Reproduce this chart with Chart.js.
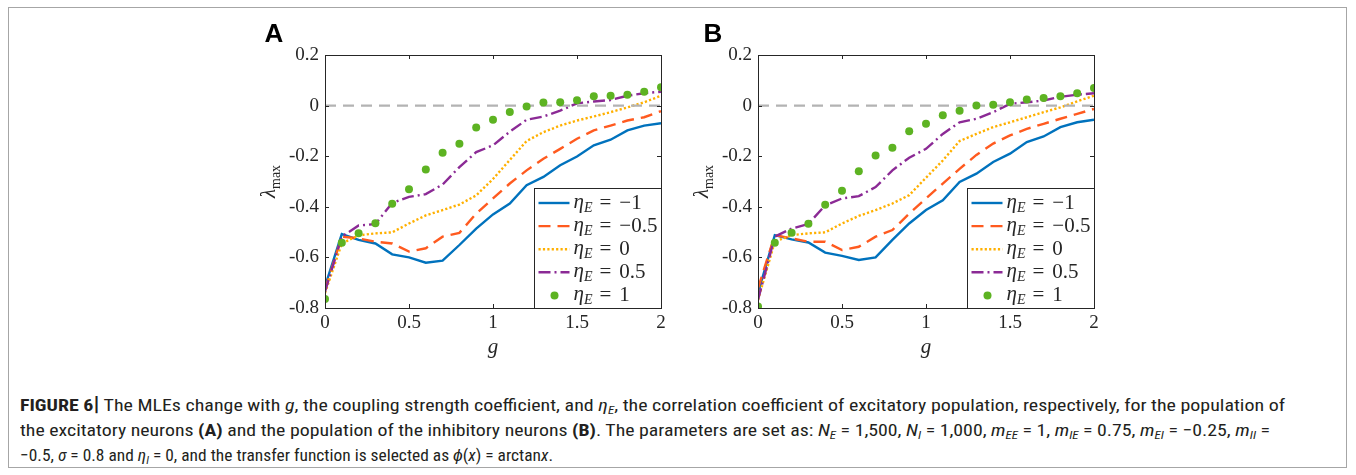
<!DOCTYPE html>
<html>
<head>
<meta charset="utf-8">
<script src="https://cdn.jsdelivr.net/npm/chart.js@4.4.1/dist/chart.umd.min.js"></script>
<style>
    body { margin: 0; background: #fff; width: 1356px; height: 475px; position: relative; overflow: hidden; }
    #frame { position: absolute; left: 8px; top: 7px; width: 1339px; height: 461px; border: 1px solid #a6a6a6; box-sizing: border-box; }
    .panel { position: absolute; top: 10px; width: 440px; height: 370px; }
    #caption {
        position: absolute; left: 20px; top: 392px;
        font-family: 'Liberation Sans Narrow', 'Roboto Condensed', 'Liberation Sans', Arial, sans-serif;
        font-size: 17px; line-height: 25px; color: #231f20; white-space: nowrap;
    }
    #caption .line { display: inline-block; transform-origin: 0 50%; }
    #caption sub { font-size: 11px; vertical-align: -3px; line-height: 0; }
    .bar { font-weight: bold; font-size: 20px; }
</style>
</head>
<body>
<div id="frame"></div>
<div class="panel" style="left:240px"><canvas id="chartA" width="440" height="370"></canvas></div>
<div class="panel" style="left:673px"><canvas id="chartB" width="440" height="370"></canvas></div>
<div id="caption">
<span class="line"><b>FIGURE 6</b><span class="bar">|</span> The MLEs change with <i>g</i>, the coupling strength coefficient, and <i>η<sub>E</sub></i>, the correlation coefficient of excitatory population, respectively, for the population of</span><br>
<span class="line">the excitatory neurons <b>(A)</b> and the population of the inhibitory neurons <b>(B)</b>. The parameters are set as: <i>N<sub>E</sub></i> = 1,500, <i>N<sub>I</sub></i> = 1,000, <i>m<sub>EE</sub></i> = 1, <i>m<sub>IE</sub></i> = 0.75, <i>m<sub>EI</sub></i> = −0.25, <i>m<sub>II</sub></i> =</span><br>
<span class="line">−0.5, <i>σ</i> = 0.8 and <i>η<sub>I</sub></i> = 0, and the transfer function is selected as <i>ϕ</i>(<i>x</i>) = arctan<i>x</i>.</span>
</div>

<script>
// coupling strength g (x axis)
const gValues = [0, 0.1, 0.2, 0.3, 0.4, 0.5, 0.6, 0.7, 0.8, 0.9, 1.0,
                 1.1, 1.2, 1.3, 1.4, 1.5, 1.6, 1.7, 1.8, 1.9, 2.0];

// eta_E legend values
const etaLabels = ['\u22121', '\u22120.5', '0', '0.5', '1'];

// Panel A - excitatory population
const blueA   = [-0.715, -0.508, -0.531, -0.545, -0.588, -0.600, -0.621, -0.613, -0.551, -0.486, -0.430,
                 -0.387, -0.315, -0.282, -0.236, -0.201, -0.157, -0.135, -0.098, -0.079, -0.070];
const redA    = [-0.728, -0.518, -0.525, -0.538, -0.545, -0.577, -0.564, -0.518, -0.503, -0.427, -0.367,
                 -0.308, -0.256, -0.210, -0.171, -0.131, -0.098, -0.079, -0.059, -0.046, -0.022];
const yellowA = [-0.741, -0.545, -0.513, -0.505, -0.501, -0.466, -0.434, -0.413, -0.391, -0.355, -0.290,
                 -0.215, -0.140, -0.105, -0.079, -0.059, -0.043, -0.026, -0.007, 0.013, 0.039];
const purpleA = [-0.735, -0.518, -0.474, -0.468, -0.385, -0.361, -0.350, -0.312, -0.243, -0.184, -0.157,
                 -0.103, -0.056, -0.043, -0.020, 0.009, 0.016, 0.022, 0.039, 0.049, 0.055];
const greenA  = [-0.764, -0.542, -0.505, -0.465, -0.388, -0.331, -0.253, -0.186, -0.151, -0.087, -0.056,
                 -0.025, -0.004, 0.012, 0.013, 0.021, 0.037, 0.039, 0.043, 0.055, 0.073];

// Panel B - inhibitory population
const blueB   = [-0.741, -0.512, -0.529, -0.541, -0.581, -0.594, -0.610, -0.600, -0.531, -0.466, -0.413,
                 -0.374, -0.302, -0.269, -0.223, -0.190, -0.144, -0.122, -0.085, -0.066, -0.056];
const redB    = [-0.722, -0.512, -0.525, -0.538, -0.538, -0.571, -0.558, -0.518, -0.492, -0.427, -0.367,
                 -0.308, -0.250, -0.195, -0.150, -0.118, -0.092, -0.072, -0.052, -0.033, -0.013];
const yellowB = [-0.768, -0.538, -0.512, -0.505, -0.501, -0.466, -0.436, -0.413, -0.387, -0.354, -0.285,
                 -0.217, -0.140, -0.112, -0.085, -0.066, -0.046, -0.026, -0.007, 0.017, 0.039];
const purpleB = [-0.768, -0.518, -0.486, -0.468, -0.394, -0.367, -0.358, -0.322, -0.256, -0.206, -0.171,
                 -0.112, -0.066, -0.052, -0.026, 0.007, 0.013, 0.020, 0.035, 0.043, 0.049];
const greenB  = [-0.794, -0.542, -0.503, -0.467, -0.392, -0.337, -0.259, -0.197, -0.167, -0.101, -0.072,
                 -0.038, -0.020, 0.000, 0.003, 0.013, 0.024, 0.030, 0.037, 0.049, 0.070];

// reference line at lambda = 0
const zeroLineX = [0, 2];
const zeroLineY = [0, 0];

const SERIF = "'Liberation Serif', 'DejaVu Serif', serif";
const AXIS_COLOR = '#262626';

const styles = [
    { color: '#0072BD', dash: [],            order: 5 },            // solid
    { color: '#FF5A1F', dash: [12, 7],       order: 4 },            // dashed
    { color: '#FFB000', dash: [2.2, 2.2],    order: 3 },            // dotted
    { color: '#8B2A95', dash: [12, 4, 2, 4], order: 2 },            // dash-dot
    { color: '#5DB322', dash: [],            order: 0, dots: true } // markers
];

function toPoints(xs, ys) {
    return xs.map((x, i) => ({ x: x, y: ys[i] }));
}

function fmtTick(v) {
    if (Math.abs(v) < 1e-9) return '0';
    return String(parseFloat(v.toFixed(1)));
}

// panel letter, axis labels, inward ticks, box and legend
const panelDecor = {
    id: 'panelDecor',
    afterDraw(chart, args, opts) {
        const ctx = chart.ctx;
        const a = chart.chartArea;
        const xs = chart.scales.x, ys = chart.scales.y;
        ctx.save();

        // box + inward ticks
        ctx.strokeStyle = AXIS_COLOR;
        ctx.lineWidth = 1;
        ctx.strokeRect(Math.round(a.left) + 0.5, Math.round(a.top) + 0.5,
                       Math.round(a.right - a.left), Math.round(a.bottom - a.top));
        ctx.beginPath();
        ys.ticks.forEach(t => {
            const py = Math.round(ys.getPixelForValue(t.value)) + 0.5;
            ctx.moveTo(a.left, py); ctx.lineTo(a.left + 4, py);
            ctx.moveTo(a.right, py); ctx.lineTo(a.right - 4, py);
        });
        xs.ticks.forEach(t => {
            const px = Math.round(xs.getPixelForValue(t.value)) + 0.5;
            ctx.moveTo(px, a.bottom); ctx.lineTo(px, a.bottom - 4);
            ctx.moveTo(px, a.top); ctx.lineTo(px, a.top + 4);
        });
        ctx.stroke();

        // legend
        const bw = 127, bh = 120;
        const bx = Math.round(a.right) - bw + 0.5, by = Math.round(a.bottom) - bh + 0.5;
        ctx.fillStyle = '#fff';
        ctx.fillRect(bx, by, bw, bh);
        ctx.strokeRect(bx, by, bw, bh);
        styles.forEach((s, i) => {
            const y = by + 14.5 + i * 23.1;
            if (s.dots) {
                ctx.fillStyle = s.color;
                ctx.beginPath();
                ctx.arc(bx + 20, y, 4, 0, Math.PI * 2);
                ctx.fill();
            } else {
                ctx.strokeStyle = s.color;
                ctx.lineWidth = 2.4;
                ctx.setLineDash(s.dash);
                ctx.beginPath();
                ctx.moveTo(bx + 4, y); ctx.lineTo(bx + 35, y);
                ctx.stroke();
                ctx.setLineDash([]);
            }
            ctx.fillStyle = AXIS_COLOR;
            ctx.textAlign = 'left';
            ctx.textBaseline = 'alphabetic';
            let tx = bx + 39;
            ctx.font = 'italic 21px ' + SERIF;
            ctx.fillText('\u03b7', tx, y + 5);
            tx += ctx.measureText('\u03b7').width;
            ctx.font = 'italic 14px ' + SERIF;
            ctx.fillText('E', tx, y + 9);
            tx += ctx.measureText('E').width + 7;
            ctx.font = '21px ' + SERIF;
            ctx.fillText('=', tx, y + 6);
            tx += ctx.measureText('=').width + 8;
            ctx.fillText(etaLabels[i], tx, y + 6);
        });

        // panel letter
        ctx.fillStyle = '#000';
        ctx.font = "bold 26px 'Liberation Sans', Arial, sans-serif";
        ctx.textAlign = 'center';
        ctx.fillText(opts.letter, opts.letterX, 32);

        // x label
        ctx.fillStyle = AXIS_COLOR;
        ctx.font = 'italic 21px ' + SERIF;
        ctx.fillText('g', (a.left + a.right) / 2, 343);

        // y label (lambda_max)
        ctx.translate(a.left - 50, (a.top + a.bottom) / 2);
        ctx.rotate(-Math.PI / 2);
        ctx.textAlign = 'left';
        ctx.font = 'italic 21px ' + SERIF;
        const lw = ctx.measureText('\u03bb').width;
        ctx.font = '14px ' + SERIF;
        const mw = ctx.measureText('max').width;
        let sx = -(lw + mw) / 2;
        ctx.font = 'italic 21px ' + SERIF;
        ctx.fillText('\u03bb', sx, 0);
        ctx.font = '14px ' + SERIF;
        ctx.fillText('max', sx + lw, 5);
        ctx.restore();
    }
};

function createPanel(canvasId, letter, letterX, series) {
    const datasets = series.map((ys, i) => {
        const s = styles[i];
        return {
            label: 'eta_E = ' + etaLabels[i],
            data: toPoints(gValues, ys),
            borderColor: s.color,
            backgroundColor: s.color,
            borderWidth: 2.4,
            borderDash: s.dash,
            showLine: !s.dots,
            pointRadius: s.dots ? 4 : 0,
            pointBorderWidth: 0,
            tension: 0,
            order: s.order
        };
    });
    datasets.push({
        label: 'zero',
        data: toPoints(zeroLineX, zeroLineY),
        borderColor: '#b3b3b3',
        borderWidth: 2.4,
        borderDash: [11, 7],
        pointRadius: 0,
        order: 1
    });

    return new Chart(document.getElementById(canvasId), {
        type: 'line',
        data: { datasets: datasets },
        options: {
            responsive: false,
            animation: false,
            events: [],
            layout: { padding: { top: 45, right: 19, left: 0, bottom: 0 } },
            plugins: {
                legend: { display: false },
                tooltip: { enabled: false },
                panelDecor: { letter: letter, letterX: letterX }
            },
            scales: {
                x: {
                    type: 'linear',
                    min: 0, max: 2,
                    ticks: { stepSize: 0.5, padding: 4, color: AXIS_COLOR, font: { family: SERIF, size: 19 }, callback: fmtTick },
                    grid: { display: false, drawTicks: false },
                    border: { display: false },
                    afterFit: s => { s.height = 72; }
                },
                y: {
                    min: -0.8, max: 0.2,
                    ticks: { stepSize: 0.2, padding: 6, color: AXIS_COLOR, font: { family: SERIF, size: 19 }, callback: fmtTick },
                    grid: { display: false, drawTicks: false },
                    border: { display: false },
                    afterFit: s => { s.height; s.width = 85; }
                }
            }
        },
        plugins: [panelDecor]
    });
}

createPanel('chartA', 'A', 34, [blueA, redA, yellowA, purpleA, greenA]);
createPanel('chartB', 'B', 40, [blueB, redB, yellowB, purpleB, greenB]);

// fit each caption line to the width it takes in the figure (condensed face)
const captionWidths = [1265, 1250, 533];
document.querySelectorAll('#caption .line').forEach((el, i) => {
    const k = captionWidths[i] / el.getBoundingClientRect().width;
    el.style.transform = 'scaleX(' + k.toFixed(4) + ')';
});
</script>
</body>
</html>
